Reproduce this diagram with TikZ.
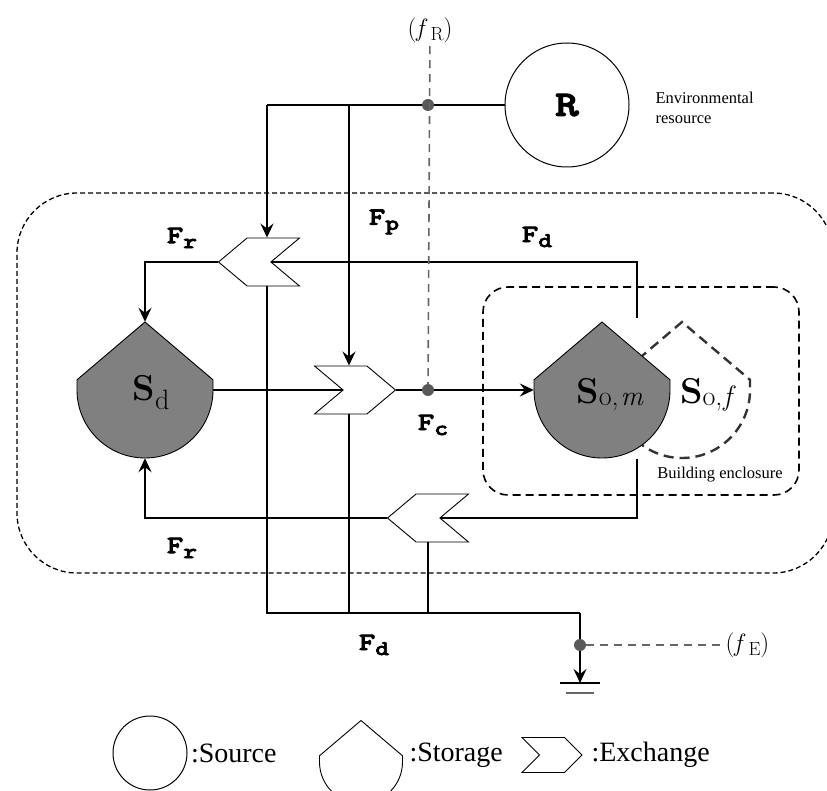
\documentclass[tikz,border=0pt]{standalone}
\usepackage{fontspec}
\newfontfamily\tnr{Liberation Serif}
\newfontfamily\slabtt{lmmonolt10-bold.otf}[FakeBold=3,FakeStretch=1.25]
\usetikzlibrary{shapes.symbols,arrows.meta,calc}

\newcommand\fsub[1]{\raisebox{-5pt}{\fontsize{21}{21}\selectfont #1}}
\newcommand\ssub[2]{\raisebox{-#1}{\fontsize{28}{28}\selectfont #2}}
\newcommand\psub[1]{(\textit{f}\kern3pt\raisebox{-4pt}{\fontsize{19}{19}\selectfont #1})}
\newcommand\storage[3][]{%
  \draw[#1] ($(#2)+(-#3,-0.15*#3)$) -- ($(#2)+(0,-#3)$) -- ($(#2)+(#3,-0.15*#3)$)
    -- ($(#2)+(#3,0)$) arc[start angle=0,end angle=-180,radius=#3pt] -- cycle;}

\tikzset{
  flow/.style={line width=1.8pt},
  arr/.style={-{Stealth[length=14pt,width=13pt,inset=5pt]}},
  exch/.style={draw,line width=0.9pt,fill=white,signal,signal pointer angle=80,
    minimum width=81pt,minimum height=48pt,inner sep=0pt},
  toleft/.style={signal to=west,signal from=east},
  toright/.style={signal to=east,signal from=west},
  holder/.style={circle,inner sep=0pt,minimum size=#1},
  src/.style={draw,circle,line width=1pt,minimum size=124pt,inner sep=0pt},
  som/.style={draw,line width=0.9pt,fill=black!50},
  sof/.style={draw=black!80,line width=2.4pt,dash pattern=on 10pt off 6pt},
  legshape/.style={draw,line width=0.9pt},
  dot/.style={circle,fill=black!65,inner sep=0pt,minimum size=12pt},
  probe/.style={draw=black!60,line width=1.6pt,dash pattern=on 8pt off 6pt},
  sysbox/.style={draw,rectangle,rounded corners=60pt,line width=1.3pt,dash pattern=on 5pt off 3pt},
  bldbox/.style={draw,rectangle,rounded corners=25pt,line width=1.6pt,dash pattern=on 8pt off 5pt},
  flab/.style={font=\fontsize{25}{25}\selectfont\slabtt},
  slab/.style={font=\fontsize{36}{38}\selectfont},
  plab/.style={font=\fontsize{25}{27}\selectfont},
  note/.style={font=\fontsize{16.5}{20}\selectfont\tnr,align=left},
  legt/.style={font=\fontsize{28}{30}\selectfont\tnr},
}

\begin{document}
\begin{tikzpicture}[x=1pt,y=-1pt]
\useasboundingbox (0,0) rectangle (827,791);

% enclosures
\node[sysbox,minimum width=816pt,minimum height=380pt] (SYS) at (425,383) {};
\node[bldbox,minimum width=316pt,minimum height=208pt] (BLD) at (641,391) {};
\node[note] (BLDt) at (720,475) {Building enclosure};

% source
\node[src] (R) at (567,105) {\fontsize{36}{36}\selectfont\slabtt R};
\node[note,anchor=west] (ENV) at (652,108) {Environmental\\resource};

% storages
\node[holder=136pt] (SD) at (145,390) {};
\node[holder=136pt] (SOF) at (682,390) {};
\node[holder=136pt] (SOM) at (602,390) {};
\storage[sof]{SOF}{68}
\storage[som]{SOM}{68}
\storage[som]{SD}{68}
\node[slab] (SDt) at ([shift={(6,3)}]SD) {\textbf{S}\ssub{9pt}{d}};
\node[slab] (SOMt) at ([shift={(8,5)}]SOM) {\textbf{S}\ssub{2pt}{o,\kern2pt\textit{m}}};
\node[slab] (SOFt) at ([shift={(26,5)}]SOF) {\textbf{S}\ssub{2pt}{o,\kern1pt\textit{f}}};

% exchanges
\node[exch,toleft] (XU) at (259,262) {};
\node[exch,toright] (XM) at (355,390) {};
\node[exch,toleft] (XL) at (428,518) {};

\coordinate (TA) at (267,105);
\coordinate (TB) at (349,105);
\coordinate (GB) at (580,613);
\coordinate (OT) at (637,318);
\coordinate (OB) at (637,459);
\coordinate (EA) at (580,683);

\draw[flow] (R) -- (TA);
\draw[flow,arr] (TA) -- (TA |- XU.north);
\draw[flow,arr] (TB) -- (TB |- XM.north);
\draw[flow] (TA |- XU.south) |- (GB);
\draw[flow] (TB |- XM.south) -- (TB |- GB);
\draw[flow] (XL.south) -- (XL.south |- GB);
\draw[flow,arr] (GB) -- (EA);
\draw[flow] (SD.east) -- (XM.west);
\draw[flow,arr] (XM.east) -- (SOM.west);
\draw[flow] (OT) |- (XU.east);
\draw[flow,arr] (XU.west) -| (SD.north);
\draw[flow] (OB) |- (XL.east);
\draw[flow,arr] (XL.west) -| (SD.south);
\draw[line width=2.4pt] ([xshift=-20]EA) -- ([xshift=20]EA);
\draw[line width=1.2pt,black!60] ([shift={(-14,10)}]EA) -- ([shift={(14,10)}]EA);

% probes
\node[dot] (dT) at (428,105) {};
\node[dot] (dC) at (428,390) {};
\node[dot] (dE) at (580,645) {};
\node[plab] (FR) at (430,30) {\psub{R}};
\node[plab,anchor=west] (FE) at (722,645) {\psub{E}};
\draw[probe] (FR) -- (dC);
\draw[probe] (dE) -- (FE);

% flow labels
\node[flab] (Fp) at (384,222) {F\fsub{p}};
\node[flab] (Fr1) at (182,238) {F\fsub{r}};
\node[flab] (Fd1) at (537,237) {F\fsub{d}};
\node[flab] (Fc) at (433,425) {F\fsub{c}};
\node[flab] (Fr2) at (182,548) {F\fsub{r}};
\node[flab] (Fd2) at (374,645) {F\fsub{d}};

% legend
\node[src,minimum size=74pt] (LS) at (150,753) {};
\node[legt,anchor=west] (LSt) at (LS.east) {:Source};
\node[holder=83pt] (LG) at (361,762) {};
\storage[legshape]{LG}{41.5}
\node[legt,anchor=west] (LGt) at (406,755) {:Storage};
\node[exch,toright,minimum width=60pt,minimum height=35pt,signal pointer angle=90] (LX) at (552,755) {};
\node[legt,anchor=west] (LXt) at (588,755) {:Exchange};
\end{tikzpicture}
\end{document}
